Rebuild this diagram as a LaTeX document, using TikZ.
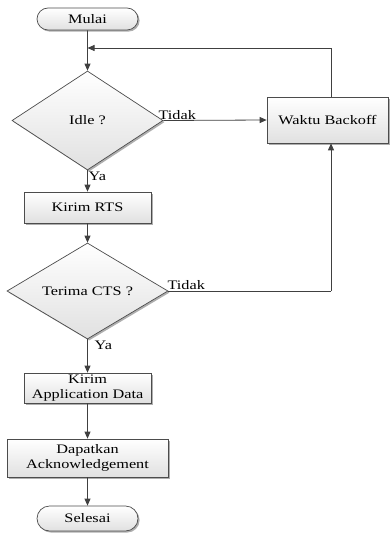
\documentclass[tikz,border=0pt]{standalone}
\usepackage{fontspec}
\setmainfont[FakeStretch=1.25]{Liberation Serif}
\usetikzlibrary{shapes.geometric,shapes.misc,shadows,arrows.meta,positioning}
\tikzset{
  base/.style={draw=black!70, line width=0.7pt, top color=white, bottom color=black!12,
    inner sep=0pt, align=center, font=\fontsize{13}{15}\selectfont,
    drop shadow={shadow xshift=1.6pt, shadow yshift=-1.6pt, fill=black!45, opacity=0.7}},
  proc/.style={base, rectangle},
  term/.style={base, rounded rectangle},
  decision/.style={base, diamond, aspect=1.5},
  conn/.style={draw=black!75, line width=0.8pt, -{Triangle[length=7pt,width=6pt]}},
  line/.style={draw=black!75, line width=0.8pt},
  lbl/.style={font=\fontsize{13}{15}\selectfont, inner sep=1pt}
}
\begin{document}
\begin{tikzpicture}[x=1pt,y=-1pt]
\useasboundingbox (0,0) rectangle (390,534);
\node[term, minimum width=101pt, minimum height=22pt] (mulai) at (87.5,19) {Mulai};
\node[decision, minimum width=151pt, minimum height=99pt] (idle) at (87.5,120.5) {Idle ?};
\node[proc, minimum width=121pt, minimum height=46pt] (waktu) at (327.5,120) {Waktu Backoff};
\node[proc, minimum width=127pt, minimum height=31pt] (rts) at (87.5,207.5) {Kirim RTS};
\node[decision, minimum width=161pt, minimum height=96pt] (cts) at (87.5,291) {Terima CTS ?};
\node[proc, minimum width=127pt, minimum height=30pt] (app) at (87.5,388) {Kirim\\Application Data};
\node[proc, minimum width=161pt, minimum height=38pt] (ack) at (87.5,458) {Dapatkan\\Acknowledgement};
\node[term, minimum width=101pt, minimum height=25pt] (selesai) at (87.5,518.5) {Selesai};
\coordinate (col) at (331,0);
\coordinate (loop) at (87.5,48);
% connectors
\draw[conn] (mulai) -- (idle);
\draw[line] (waktu.north -| col) -- (loop -| col);
\draw[conn] (loop -| col) -- (loop);
\draw[conn] (idle.east) -- (waktu.west);
\draw[conn] (idle.south) -- (rts.north);
\draw[conn] (rts.south) -- (cts.north);
\draw[line] (cts.east) -- (cts.east -| col);
\draw[conn] (cts.east -| col) -- (waktu.south -| col);
\draw[conn] (cts.south) -- (app.north);
\draw[conn] (app.south) -- (ack.north);
\draw[conn] (ack.south) -- (selesai.north);
% labels
\node[lbl, anchor=south west, xshift=-6pt] (t1) at (idle.east) {Tidak};
\node[lbl, anchor=south west, xshift=-2pt] (t2) at (cts.east) {Tidak};
\node[lbl, anchor=north west] (y1) at (idle.south) {Ya};
\node[lbl, anchor=north west, xshift=6pt] (y2) at (cts.south) {Ya};
\end{tikzpicture}
\end{document}
